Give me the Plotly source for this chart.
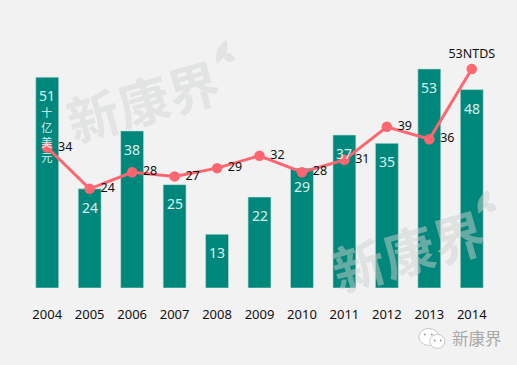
import plotly.graph_objects as go

W, H = 517, 365
years = ["2004","2005","2006","2007","2008","2009","2010","2011","2012","2013","2014"]
bar_values = [51,24,38,25,13,22,29,37,35,53,48]
bar_labels = ["51","24","38","25","13","22","29","37","35","53","48"]
unit_label = "十<br>亿<br>美<br>元"
line_values = [34,24,28,27,29,32,28,31,39,36,53]
line_labels = ["34","24","28","27","29","32","28","31","39","36","53NTDS"]
line_label_pos = ["middle right"]*10 + ["top center"]

TEAL = "#00877B"
RED = "#FF6670"
BG = "#F2F2F2"
FONT = "Noto Sans, Noto Sans CJK SC, sans-serif"
ML, MR, MT, MB = 25.75, 23.75, 40, 76.5

def px(x): return (x - ML) / (W - ML - MR)
def py(y): return 1 - (y - MT) / (H - MT - MB)

fig = go.Figure()
fig.add_bar(x=years, y=bar_values, width=0.54, marker=dict(color=TEAL, line=dict(color="#C4E0DC", width=0.6)))
fig.add_scatter(x=years, y=line_values, mode="lines+markers+text",
                line=dict(color=RED, width=3), marker=dict(color=RED, size=10.5),
                text=[" " + t if i < 10 else t for i, t in enumerate(line_labels)],
                textposition=line_label_pos,
                textfont=dict(family=FONT, size=12.5, color="#111111"), cliponaxis=False)

annotations = [dict(x=i, y=v, text=t, showarrow=False, yanchor="top", yshift=-7,
                    font=dict(family=FONT, size=14, color="#D9F1ED"))
               for i, (v, t) in enumerate(zip(bar_values, bar_labels))]
# the unit written vertically inside the first bar
annotations.append(dict(x=0, y=bar_values[0], text=unit_label, showarrow=False, yanchor="top", yshift=-25,
                        font=dict(family="Noto Sans CJK SC", size=11.5, color="#D9F1ED")))

# watermarks
for (cx, cy, col) in [(143, 100, "#E2E4E3"), (408, 250, "rgba(205,208,207,0.5)")]:
    annotations.append(dict(xref="paper", yref="paper", x=px(cx), y=py(cy), text="<b>新康界</b>",
                            showarrow=False, textangle=-16, xanchor="center", yanchor="middle",
                            font=dict(family="Noto Sans CJK SC", size=52, color=col)))
# footer brand
annotations.append(dict(xref="paper", yref="paper", x=px(450), y=py(339), text="新康界", showarrow=False,
                        xanchor="left", yanchor="middle",
                        font=dict(family="Noto Sans CJK SC", size=16.5, color="#A9A9A9")))

shapes = []
# leaves of the watermarks
for ox, oy, col in [(0, 0, "#E2E4E3"), (262, 150, "rgba(205,208,207,0.5)")]:
    path = "M{:.4f},{:.4f} Q{:.4f},{:.4f} {:.4f},{:.4f} Q{:.4f},{:.4f} {:.4f},{:.4f} Z".format(
        px(226+ox),py(40+oy),px(212+ox),py(50+oy),px(217+ox),py(64+oy),px(232+ox),py(52+oy),px(226+ox),py(40+oy))
    path2 = "M{:.4f},{:.4f} Q{:.4f},{:.4f} {:.4f},{:.4f} Q{:.4f},{:.4f} {:.4f},{:.4f} Z".format(
        px(222+ox),py(55+oy),px(232+ox),py(50+oy),px(235+ox),py(59+oy),px(228+ox),py(67+oy),px(222+ox),py(55+oy))
    shapes.append(dict(type="path", xref="paper", yref="paper", path=path, fillcolor=col, line_width=0))
    shapes.append(dict(type="path", xref="paper", yref="paper", path=path2, fillcolor=col, line_width=0))
# chat-bubble logo
for x0, y0, x1, y1 in [(419,329,439,346),(430,335,445,349)]:
    shapes.append(dict(type="circle", xref="paper", yref="paper", x0=px(x0), x1=px(x1), y0=py(y0), y1=py(y1),
                       fillcolor="#FFFFFF", line=dict(color="#C8C8C8", width=1)))
for cx, cy in [(425,335),(432,335),(435,341),(441,341)]:
    shapes.append(dict(type="circle", xref="paper", yref="paper", x0=px(cx-1), x1=px(cx+1), y0=py(cy-1), y1=py(cy+1),
                       fillcolor="#9A9A9A", line_width=0))

fig.update_layout(
    width=W, height=H, showlegend=False, paper_bgcolor=BG, plot_bgcolor=BG,
    margin=dict(l=ML, r=MR, t=MT, b=MB),
    xaxis=dict(type="category", range=[-0.5, 10.5], showgrid=False, showline=False, zeroline=False, ticks="outside", ticklen=14,
               tickcolor="rgba(0,0,0,0)", tickfont=dict(family=FONT, size=13, color="#111111")),
    yaxis=dict(range=[0, 60], visible=False),
    annotations=annotations, shapes=shapes,
)
fig.write_html("out.html", config={"displayModeBar": False}, post_script="document.body.style.margin='0';")
